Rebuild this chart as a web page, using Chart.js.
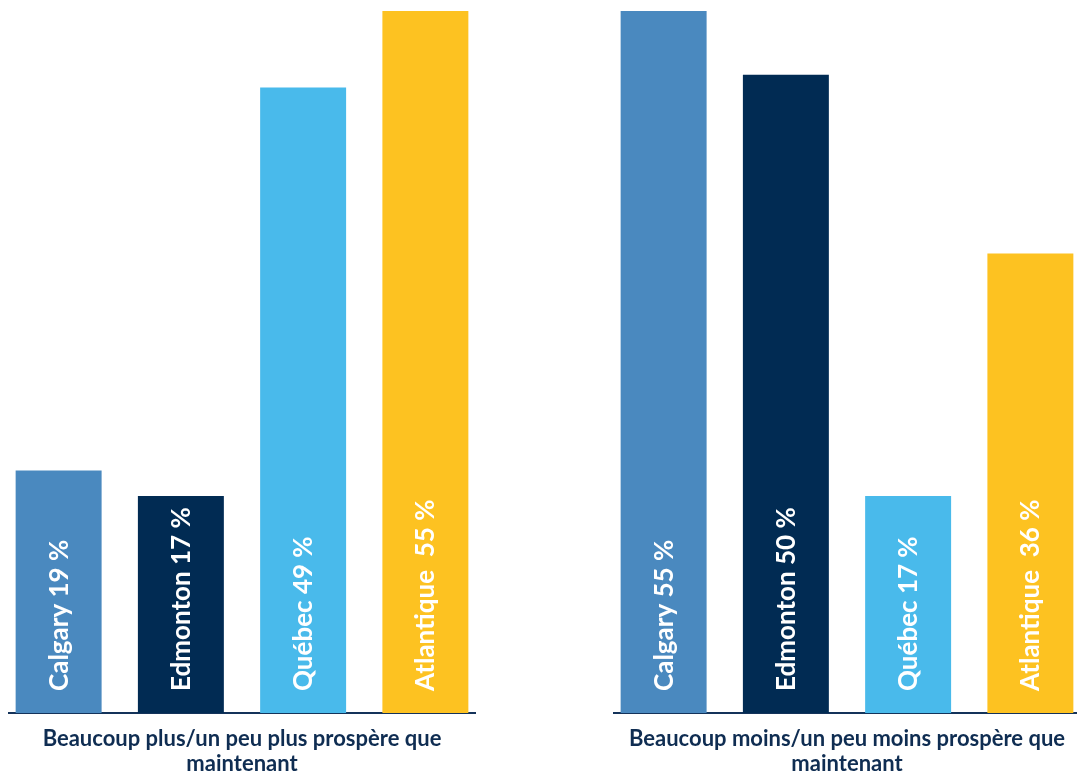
<!DOCTYPE html>
<html><head><meta charset="utf-8">
<script src="https://cdn.jsdelivr.net/npm/chart.js@4"></script>
<style>
html,body{margin:0;padding:0;overflow:hidden;background:#fff;width:1077px;height:773px;}
#c1{position:absolute;left:0;top:0;}
#c2{position:absolute;left:560px;top:0;}
</style></head><body>
<canvas id="c1" width="490" height="794"></canvas>
<canvas id="c2" width="520" height="794"></canvas>
<script>
// ---- data ----
const categories = ["Calgary", "Edmonton", "Québec", "Atlantique"];
const labelSeparators = [" ", " ", " ", "  "];
const plusTitle = ["Beaucoup plus/un peu plus prospère que", "maintenant"];
const moinsTitle = ["Beaucoup moins/un peu moins prospère que", "maintenant"];
const plusValues = [19, 17, 49, 55];
const moinsValues = [55, 50, 17, 36];

// ---- style ----
const colors = ["#4a89bf", "#012b53", "#49baeb", "#fdc221"];
const navy = "#0f2d52";

const barLabels = {
  id: "barLabels",
  afterDatasetsDraw(chart) {
    const ctx = chart.ctx;
    const base = chart.scales.y.getPixelForValue(0);
    chart.data.datasets.forEach((ds, i) => {
      const el = chart.getDatasetMeta(i).data[0];
      const text = categories[i] + labelSeparators[i] + ds.data[0] + " %";
      ctx.save();
      ctx.translate(el.x, base - 22);
      ctx.rotate(-Math.PI / 2);
      ctx.font = "bold 26px Lato";
      ctx.fillStyle = "#ffffff";
      ctx.textAlign = "left";
      ctx.textBaseline = "alphabetic";
      ctx.fillText(text, 0, 9);
      ctx.restore();
    });
  }
};

function makeChart(id, title, values, padLeft, padRight) {
  return new Chart(document.getElementById(id), {
    type: "bar",
    data: {
      labels: [title],
      datasets: categories.map((c, i) => ({
        label: c,
        data: [values[i]],
        backgroundColor: colors[i],
        borderWidth: 0
      }))
    },
    options: {
      responsive: false,
      devicePixelRatio: 1,
      animation: false,
      events: [],
      categoryPercentage: 489 / 466,
      barPercentage: 86 / 122.3,
      layout: { padding: { left: padLeft, right: padRight, top: 11, bottom: 5 } },
      plugins: { legend: { display: false }, tooltip: { enabled: false } },
      scales: {
        x: {
          grid: { display: false, drawTicks: false },
          border: { display: true, color: "#14335a", width: 2 },
          ticks: {
            padding: 13,
            color: navy,
            font: { family: "Lato", size: 22, weight: "bold", lineHeight: 25 / 22 }
          }
        },
        y: { display: false, min: 0, max: 55 }
      }
    },
    plugins: [barLabels]
  });
}

makeChart("c1", plusTitle, plusValues, 9, 15);
makeChart("c2", moinsTitle, moinsValues, 54, 0);
</script>
</body></html>
